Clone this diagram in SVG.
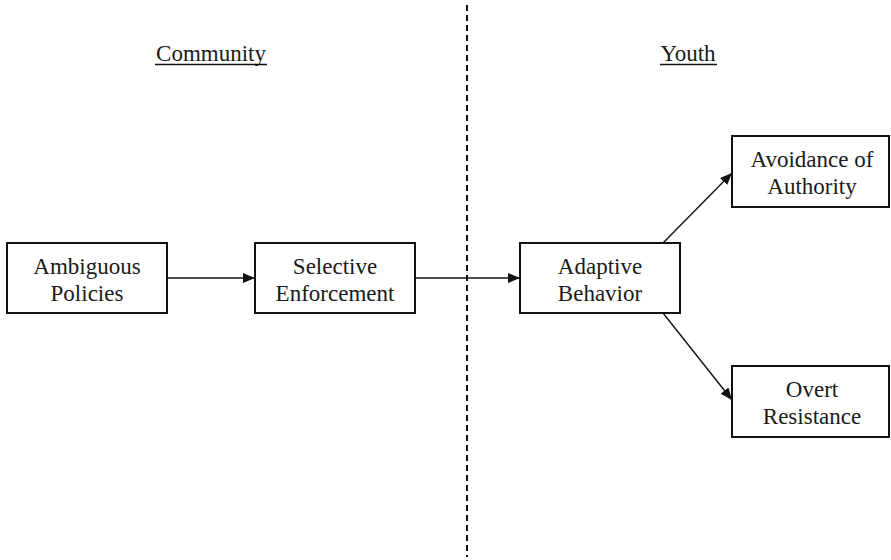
<svg xmlns="http://www.w3.org/2000/svg" width="891" height="560" viewBox="0 0 891 560">
<defs>
<style>
.box{fill:#fff;stroke:#111;stroke-width:2}
.t{font-family:"Liberation Serif","Times New Roman",serif;font-size:23px;fill:#1a1a1a;text-anchor:middle}
.c{stroke:#111;stroke-width:1.4;fill:none}
.ul{stroke:#111;stroke-width:1.6}
</style>
<marker id="ah" viewBox="0 0 12 10" refX="12" refY="5" markerWidth="12" markerHeight="10" markerUnits="userSpaceOnUse" orient="auto">
<path d="M0,0 L12,5 L0,10 Z" fill="#111"/>
</marker>
</defs>
<rect width="891" height="560" fill="#fff"/>
<line x1="467" y1="5" x2="467" y2="557" stroke="#111" stroke-width="2" stroke-dasharray="6 4"/>
<g id="headers">
<text class="t" x="211" y="61">Community</text>
<line class="ul" x1="155" y1="64.5" x2="267" y2="64.5"/>
<text class="t" x="688" y="61">Youth</text>
<line class="ul" x1="660" y1="64.5" x2="717" y2="64.5"/>
</g>
<g id="connectors">
<line class="c" x1="167" y1="278" x2="255" y2="278" marker-end="url(#ah)"/>
<line class="c" x1="415" y1="278" x2="520" y2="278" marker-end="url(#ah)"/>
<line class="c" x1="663" y1="243" x2="732" y2="173" marker-end="url(#ah)"/>
<line class="c" x1="663" y1="313" x2="732" y2="400" marker-end="url(#ah)"/>
</g>
<g id="ambiguous">
<rect class="box" x="7" y="243" width="160" height="70"/>
<text class="t" x="87" y="273.5">Ambiguous</text>
<text class="t" x="87" y="300.5">Policies</text>
</g>
<g id="selective">
<rect class="box" x="255" y="243" width="160" height="70"/>
<text class="t" x="335" y="273.5">Selective</text>
<text class="t" x="335" y="300.5">Enforcement</text>
</g>
<g id="adaptive">
<rect class="box" x="520" y="243" width="160" height="70"/>
<text class="t" x="600" y="273.5">Adaptive</text>
<text class="t" x="600" y="300.5">Behavior</text>
</g>
<g id="avoidance">
<rect class="box" x="732" y="136" width="157" height="71"/>
<text class="t" x="812" y="167">Avoidance of</text>
<text class="t" x="812" y="194">Authority</text>
</g>
<g id="overt">
<rect class="box" x="732" y="366" width="157" height="71"/>
<text class="t" x="812" y="397">Overt</text>
<text class="t" x="812" y="424">Resistance</text>
</g>
</svg>
